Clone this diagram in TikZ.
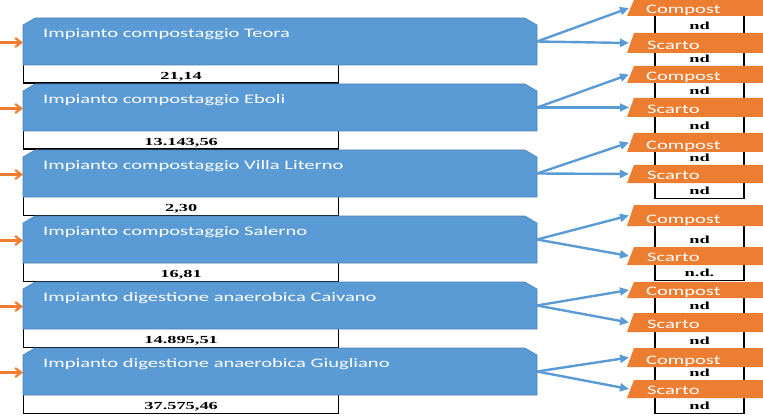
\documentclass[tikz,border=0pt]{standalone}
\usepackage{fontspec}
\usetikzlibrary{arrows.meta}
\newfontfamily\calfont[FakeStretch=1.58]{Carlito}
\newfontfamily\numfont[FakeStretch=1.7]{Liberation Serif}
\definecolor{plantblue}{HTML}{5B9BD5}
\definecolor{flowor}{HTML}{ED7D31}

\begin{document}
\begin{tikzpicture}[x=1pt,y=-1pt,
  plant/.style={fill=plantblue,draw=plantblue!85!black,line width=0.6pt},
  flow/.style={fill=flowor},
  ttl/.style={font=\calfont\fontsize{13}{13}\selectfont,text=white,inner sep=0pt,anchor=base west},
  qty/.style={draw=black,line width=1.3pt,fill=white,inner sep=0pt,anchor=north west,
    minimum width=315pt,minimum height=18.5pt,text height=14.5pt,text depth=4pt,
    font=\numfont\bfseries\fontsize{10.8}{10.8}\selectfont},
  ndbox/.style={draw=black,line width=1.3pt,fill=white,inner sep=0pt,anchor=north,
    minimum width=89pt,text depth=4.5pt,font=\numfont\bfseries\fontsize{10.8}{10.8}\selectfont},
  inarr/.style={flowor,line width=2.2pt,-{Straight Barb[length=6pt,width=9pt]}},
  outarr/.style={plantblue,line width=2.4pt,-{Triangle[length=9pt,width=8pt]}}]
\useasboundingbox (0,0) rectangle (763,417);
\clip (0,0) rectangle (763,417);
\foreach \i/\T/\name/\val/\Ct/\Cb/\St/\Sb/\Nb/\Sn in {
  1/18/Impianto compostaggio Teora/{21,14}/0/16/33/53/66/nd,
  2/84/Impianto compostaggio Eboli/{13.143,56}/66/83/98/117/133/nd,
  3/150/Impianto compostaggio Villa Literno/{2,30}/133/152/165/183/198/nd,
  4/216/Impianto compostaggio Salerno/{16,81}/205/226/247/265/280/n.d.,
  5/282/Impianto digestione anaerobica Caivano/{14.895,51}/282/298/313/332/348/nd,
  6/348/Impianto digestione anaerobica Giugliano/{37.575,46}/348/367/380/398/413/nd}{
  % plant box with quantity below
  \node[qty] (q\i) at (23,\T+46) {\val};
  \draw[plant] (23,\T+7) -- (35,\T) -- (525,\T) -- (537,\T+7) -- (537,\T+47) -- (23,\T+47) -- cycle;
  \coordinate (pin\i) at (23,\T+24.5);
  \coordinate (pout\i) at (537,\T+23.5);
  \node[ttl] (t\i) at (43,\T+19.7) {\name};
  \coordinate (src\i) at (0,\T+24.5);
  \draw[inarr] (src\i) -- (pin\i);
  % outputs
  \pgfmathsetmacro\hc{\St-\Cb+1}
  \pgfmathsetmacro\hs{\Nb-\Sb+1}
  \node[ndbox,minimum height=\hc pt,text height=\hc pt-4.5pt] (nc\i) at (699.5,\Cb-1) {nd};
  \node[ndbox,minimum height=\hs pt,text height=\hs pt-4.5pt] (ns\i) at (699.5,\Sb-1) {\Sn};
  \fill[flow] (627,\Cb) -- (634,\Ct) -- (790,\Ct) -- (790,\Cb) -- cycle;
  \coordinate (c\i) at (629,{(\Cb+\Ct)/2});
  \node[ttl] (ct\i) at (646,\Cb-2.5) {Compost};
  \fill[flow] (627,\Sb) -- (634,\St) -- (790,\St) -- (790,\Sb) -- cycle;
  \coordinate (s\i) at (629,{(\Sb+\St)/2});
  \node[ttl] (st\i) at (647,\Sb-3.5) {Scarto};
  \draw[outarr] (pout\i) -- (c\i);
  \draw[outarr] (pout\i) -- (s\i);
}
\end{tikzpicture}
\end{document}
